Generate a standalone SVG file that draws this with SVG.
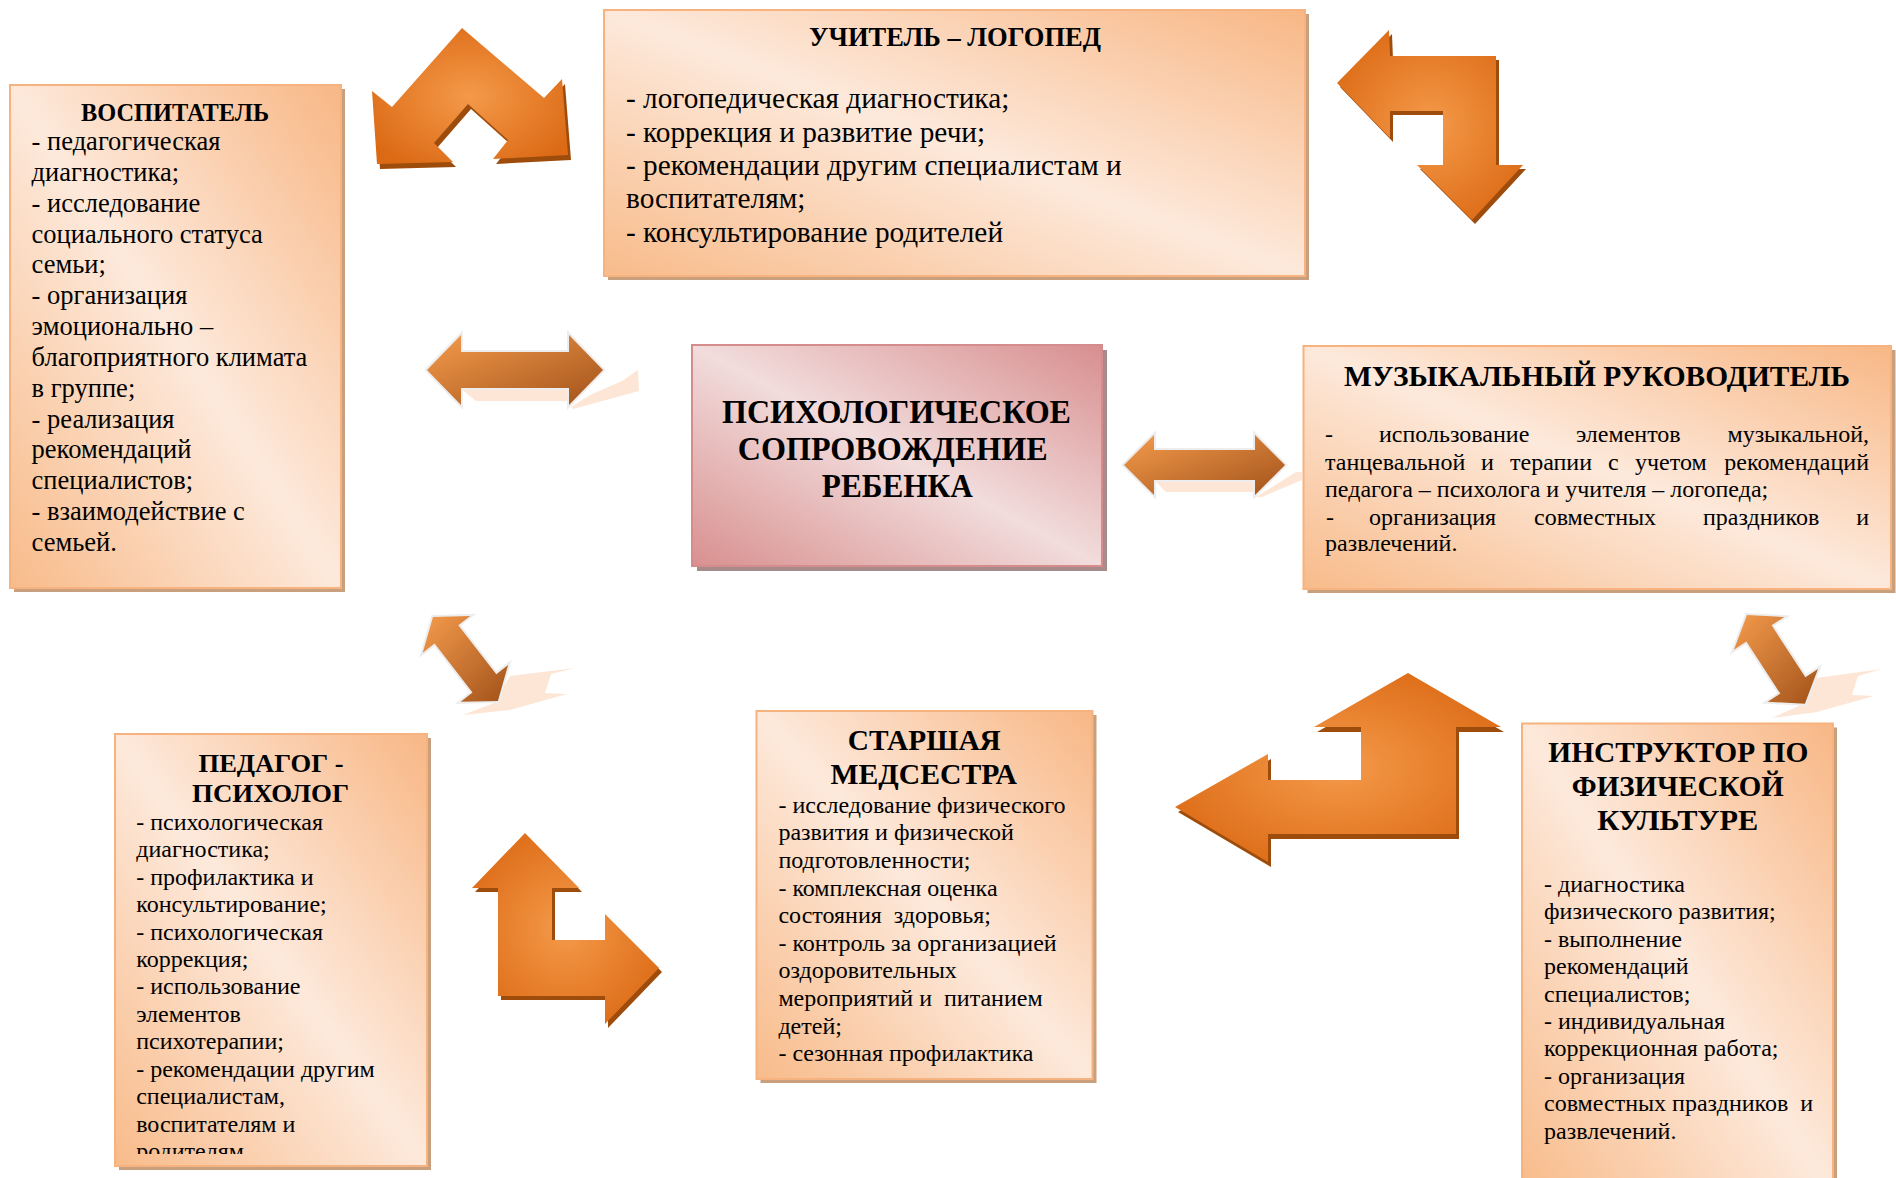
<svg xmlns="http://www.w3.org/2000/svg" width="1896" height="1178" viewBox="0 0 1896 1178">
<defs>
<linearGradient id="peach" x1="1" y1="0" x2="0" y2="1">
<stop offset="0" stop-color="#f8b785"/>
<stop offset="0.5" stop-color="#fde9db"/>
<stop offset="1" stop-color="#f8bb8a"/>
</linearGradient>
<linearGradient id="pink" x1="1" y1="0" x2="0" y2="1">
<stop offset="0" stop-color="#d88e8f"/>
<stop offset="0.5" stop-color="#f2dcdc"/>
<stop offset="1" stop-color="#d8908f"/>
</linearGradient>
<radialGradient id="bent" cx="0.5" cy="0.5" r="0.6">
<stop offset="0" stop-color="#f49a4a"/>
<stop offset="1" stop-color="#dc6a15"/>
</radialGradient>
<linearGradient id="dbl" x1="0" y1="0" x2="1" y2="1">
<stop offset="0" stop-color="#f49b4c"/>
<stop offset="1" stop-color="#a2521a"/>
</linearGradient>
<clipPath id="clipPed"><rect x="115" y="734" width="312" height="420"/></clipPath>
<style>
.box{fill:url(#peach);stroke:#f6b27f;stroke-width:2}
.shadow{fill:#c9a07e}
.cbox{fill:url(#pink);stroke:#d48c8c;stroke-width:2}
.cshadow{fill:#a88a8a}
.t{font-family:"Liberation Serif","Times New Roman",serif;fill:#000}
.b{font-weight:bold;text-anchor:middle}
.bent{fill:url(#bent)}
.bsh{fill:#9e4c0c}
.dbl{fill:url(#dbl);stroke:#ededed;stroke-width:4;paint-order:stroke;stroke-linejoin:miter}
.refl{fill:#fde6d5}
.pre{white-space:pre}
</style>
</defs>
<rect width="1896" height="1178" fill="#ffffff"/>

<g id="connectors">
  <!-- A1 chevron double arrow -->
  <g id="arrow-top-left">
    <polygon class="bsh" transform="translate(3,5)" points="462,28 544,98 562,79 568,155 493,159 508,140 468,104 434,143 453,162 377,164 372,91 392,107"/>
    <polygon class="bent" points="462,28 544,98 562,79 568,155 493,159 508,140 468,104 434,143 453,162 377,164 372,91 392,107"/>
  </g>
  <!-- A2 bent arrow left/down -->
  <g id="arrow-top-right">
    <polygon class="bsh" transform="translate(3,4)" points="1337,83 1389,30 1390,56 1496,56 1496,165 1523,165 1472,220 1417,165 1443,165 1443,111 1390,111 1390,138"/>
    <polygon class="bent" points="1337,83 1389,30 1390,56 1496,56 1496,165 1523,165 1472,220 1417,165 1443,165 1443,111 1390,111 1390,138"/>
  </g>
  <!-- A3 horizontal double arrow left -->
  <g id="arrow-mid-left">
    <polygon class="refl" points="461,389 569,389 569,401 476,401"/>
    <polygon class="refl" points="571,407 590,395 622,381 638,370 639,391 573,409"/>
    <polygon class="dbl" points="427,370 461,335 461,352 569,352 569,335 603,370 569,405 569,388 461,388 461,405"/>
  </g>
  <!-- A4 horizontal double arrow right -->
  <g id="arrow-mid-right">
    <polygon class="refl" points="1156,482 1254,482 1254,492 1166,492"/>
    <polygon class="refl" points="1256,497 1296,472 1302,472 1302,480 1262,497"/>
    <polygon class="dbl" points="1124,465 1154,435 1154,450 1255,450 1255,435 1285,465 1255,495 1255,480 1154,480 1154,495"/>
  </g>
  <!-- A5 diagonal double arrow bottom-left -->
  <g id="arrow-diag-left">
    <polygon class="refl" points="510,676 575,668 551,674 545,693 567,694 510,710 463,715 494,703"/>
    <polygon class="dbl" points="433,617 470.2,616 458.3,625.2 496.3,674.3 508.1,665.1 497.9,700.9 460.7,701.8 472.5,692.6 434.6,643.6 422.7,652.8"/>
  </g>
  <!-- A6 diagonal double arrow bottom-right -->
  <g id="arrow-diag-right">
    <polygon class="refl" points="1816,678 1882,669 1858,676 1852,695 1874,696 1817,712 1772,718 1801,705"/>
    <polygon class="dbl" points="1747,615 1784.2,617.1 1771.6,625.3 1805.4,677.2 1818,669 1804.9,703.8 1767.7,701.8 1780.3,693.6 1746.4,641.6 1733.9,649.8"/>
  </g>
  <!-- A7 L arrow up/right -->
  <g id="arrow-bottom-left">
    <polygon class="bsh" transform="translate(3,4)" points="525,833 579,888 552,888 552,940 605,940 605,914 659,968 605,1024 605,996 498,996 498,888 472,888"/>
    <polygon class="bent" points="525,833 579,888 552,888 552,940 605,940 605,914 659,968 605,1024 605,996 498,996 498,888 472,888"/>
  </g>
  <!-- A8 big bent arrow left/up -->
  <g id="arrow-bottom-right">
    <polygon class="bsh" transform="translate(3,5)" points="1408,673 1501,727 1456,727 1456,834 1268,834 1268,862 1175,807 1268,754 1268,780 1361,780 1361,727 1314,727"/>
    <polygon class="bent" points="1408,673 1501,727 1456,727 1456,834 1268,834 1268,862 1175,807 1268,754 1268,780 1361,780 1361,727 1314,727"/>
  </g>
</g>

<g id="node-vospitatel">
  <rect class="shadow" x="14" y="89" width="331" height="503"/>
  <rect class="box" x="10" y="85" width="331" height="503"/>
  <text class="t b" x="175" y="121" font-size="25" textLength="188" lengthAdjust="spacingAndGlyphs">ВОСПИТАТЕЛЬ</text>
  <text class="t" font-size="26.5">
    <tspan x="31.6" y="150">- педагогическая</tspan>
    <tspan x="31.6" y="180.8">диагностика;</tspan>
    <tspan x="31.6" y="211.7">- исследование</tspan>
    <tspan x="31.6" y="242.5">социального статуса</tspan>
    <tspan x="31.6" y="273.3">семьи;</tspan>
    <tspan x="31.6" y="304.2">- организация</tspan>
    <tspan x="31.6" y="335">эмоционально –</tspan>
    <tspan x="31.6" y="365.8">благоприятного климата</tspan>
    <tspan x="31.6" y="396.6">в группе;</tspan>
    <tspan x="31.6" y="427.5">- реализация</tspan>
    <tspan x="31.6" y="458.3">рекомендаций</tspan>
    <tspan x="31.6" y="489.1">специалистов;</tspan>
    <tspan x="31.6" y="520">- взаимодействие с</tspan>
    <tspan x="31.6" y="550.8">семьей.</tspan>
  </text>
</g>

<g id="node-logoped">
  <rect class="shadow" x="608" y="14" width="701" height="266"/>
  <rect class="box" x="604" y="10" width="701" height="266"/>
  <text class="t b" x="955" y="46" font-size="27" textLength="292" lengthAdjust="spacingAndGlyphs">УЧИТЕЛЬ – ЛОГОПЕД</text>
  <text class="t" font-size="29.3">
    <tspan x="626" y="108.3">- логопедическая диагностика;</tspan>
    <tspan x="626" y="141.7">- коррекция и развитие речи;</tspan>
    <tspan x="626" y="175">- рекомендации другим специалистам и</tspan>
    <tspan x="626" y="208.3">воспитателям;</tspan>
    <tspan x="626" y="241.7">- консультирование родителей</tspan>
  </text>
</g>

<g id="node-center">
  <rect class="cshadow" x="697" y="350" width="410" height="221"/>
  <rect class="cbox" x="692" y="345" width="410" height="221"/>
  <text class="t b" x="896.5" y="422.5" font-size="33" textLength="349" lengthAdjust="spacingAndGlyphs">ПСИХОЛОГИЧЕСКОЕ</text>
  <text class="t b" x="892.7" y="459.5" font-size="33" textLength="310" lengthAdjust="spacingAndGlyphs">СОПРОВОЖДЕНИЕ</text>
  <text class="t b" x="897.3" y="497" font-size="33" textLength="151" lengthAdjust="spacingAndGlyphs">РЕБЕНКА</text>
</g>

<g id="node-music">
  <rect class="shadow" x="1307.5" y="350" width="588" height="243"/>
  <rect class="box" x="1303.5" y="346" width="587.5" height="243"/>
  <text class="t b" x="1597" y="386" font-size="29" textLength="506" lengthAdjust="spacingAndGlyphs">МУЗЫКАЛЬНЫЙ РУКОВОДИТЕЛЬ</text>
  <g class="t" font-size="24">
    <text x="1325" y="442">-</text>
    <text x="1379" y="442">использование</text>
    <text x="1576" y="442">элементов</text>
    <text x="1869" y="442" text-anchor="end">музыкальной,</text>
    <text x="1325" y="470">танцевальной</text>
    <text x="1481" y="470">и</text>
    <text x="1510" y="470">терапии</text>
    <text x="1608" y="470">с</text>
    <text x="1635" y="470">учетом</text>
    <text x="1869" y="470" text-anchor="end">рекомендаций</text>
    <text x="1325" y="497">педагога – психолога и учителя – логопеда;</text>
    <text x="1326" y="525">-</text>
    <text x="1369" y="525">организация</text>
    <text x="1534" y="525">совместных</text>
    <text x="1703" y="525">праздников</text>
    <text x="1869" y="525" text-anchor="end">и</text>
    <text x="1325" y="551">развлечений.</text>
  </g>
</g>

<g id="node-pedagog">
  <rect class="shadow" x="119" y="738" width="312" height="432"/>
  <rect class="box" x="115" y="734" width="312" height="432"/>
  <text class="t b" x="271" y="771.6" font-size="26" textLength="145" lengthAdjust="spacingAndGlyphs">ПЕДАГОГ -</text>
  <text class="t b" x="270.5" y="801.6" font-size="26" textLength="157" lengthAdjust="spacingAndGlyphs">ПСИХОЛОГ</text>
  <text class="t" font-size="24" clip-path="url(#clipPed)">
    <tspan x="136.2" y="829.7">- психологическая</tspan>
    <tspan x="136.2" y="857.2">диагностика;</tspan>
    <tspan x="136.2" y="884.6">- профилактика и</tspan>
    <tspan x="136.2" y="912.1">консультирование;</tspan>
    <tspan x="136.2" y="939.5">- психологическая</tspan>
    <tspan x="136.2" y="967">коррекция;</tspan>
    <tspan x="136.2" y="994.4">- использование</tspan>
    <tspan x="136.2" y="1021.9">элементов</tspan>
    <tspan x="136.2" y="1049.3">психотерапии;</tspan>
    <tspan x="136.2" y="1076.8">- рекомендации другим</tspan>
    <tspan x="136.2" y="1104.2">специалистам,</tspan>
    <tspan x="136.2" y="1131.7">воспитателям и</tspan>
    <tspan x="136.2" y="1159.1">родителям.</tspan>
  </text>
</g>

<g id="node-medsestra">
  <rect class="shadow" x="760.5" y="715" width="336" height="368"/>
  <rect class="box" x="756.5" y="711" width="336" height="368"/>
  <text class="t b" x="924.3" y="750" font-size="29" textLength="153" lengthAdjust="spacingAndGlyphs">СТАРШАЯ</text>
  <text class="t b" x="923.8" y="783.7" font-size="29" textLength="186.5" lengthAdjust="spacingAndGlyphs">МЕДСЕСТРА</text>
  <text class="t pre" font-size="24">
    <tspan x="778.4" y="812.7">- исследование физического</tspan>
    <tspan x="778.4" y="840.3">развития и физической</tspan>
    <tspan x="778.4" y="867.9">подготовленности;</tspan>
    <tspan x="778.4" y="895.5">- комплексная оценка</tspan>
    <tspan x="778.4" y="923.1">состояния  здоровья;</tspan>
    <tspan x="778.4" y="950.7">- контроль за организацией</tspan>
    <tspan x="778.4" y="978.3">оздоровительных</tspan>
    <tspan x="778.4" y="1005.9">мероприятий и  питанием</tspan>
    <tspan x="778.4" y="1033.5">детей;</tspan>
    <tspan x="778.4" y="1061.1">- сезонная профилактика</tspan>
  </text>
</g>

<g id="node-instructor">
  <rect class="shadow" x="1526" y="727.5" width="311" height="470"/>
  <rect class="box" x="1522" y="723.5" width="311" height="470"/>
  <text class="t b" x="1678.3" y="762" font-size="30" textLength="260" lengthAdjust="spacingAndGlyphs">ИНСТРУКТОР ПО</text>
  <text class="t b" x="1677.8" y="795.5" font-size="30" textLength="212" lengthAdjust="spacingAndGlyphs">ФИЗИЧЕСКОЙ</text>
  <text class="t b" x="1677.8" y="829.5" font-size="30" textLength="161" lengthAdjust="spacingAndGlyphs">КУЛЬТУРЕ</text>
  <text class="t pre" font-size="24">
    <tspan x="1544" y="891.7">- диагностика</tspan>
    <tspan x="1544" y="919.2">физического развития;</tspan>
    <tspan x="1544" y="946.6">- выполнение</tspan>
    <tspan x="1544" y="974.1">рекомендаций</tspan>
    <tspan x="1544" y="1001.5">специалистов;</tspan>
    <tspan x="1544" y="1029">- индивидуальная</tspan>
    <tspan x="1544" y="1056.4">коррекционная работа;</tspan>
    <tspan x="1544" y="1083.9">- организация</tspan>
    <tspan x="1544" y="1111.3">совместных праздников  и</tspan>
    <tspan x="1544" y="1138.8">развлечений.</tspan>
  </text>
</g>
</svg>
